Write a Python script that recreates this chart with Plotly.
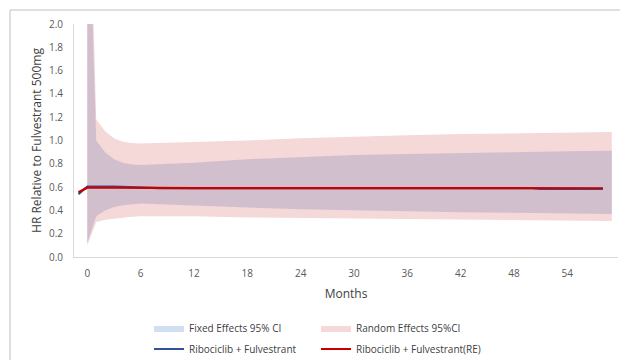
import plotly.graph_objects as go

# CI band months
band_months = [0, 1, 2, 3, 4, 5, 6, 9, 12, 18, 24, 30, 36, 42, 48, 54, 59]
fe_upper = [3.5, 1.00, 0.90, 0.84, 0.81, 0.795, 0.79, 0.80, 0.81, 0.84, 0.86, 0.875, 0.885, 0.895, 0.90, 0.908, 0.912]
fe_lower = [0.12, 0.35, 0.40, 0.43, 0.445, 0.455, 0.46, 0.45, 0.44, 0.425, 0.41, 0.40, 0.39, 0.385, 0.38, 0.375, 0.37]
re_upper = [4.0, 1.18, 1.08, 1.02, 0.99, 0.978, 0.975, 0.98, 0.99, 1.00, 1.02, 1.035, 1.045, 1.055, 1.06, 1.068, 1.072]
re_lower = [0.10, 0.30, 0.32, 0.33, 0.34, 0.345, 0.35, 0.35, 0.35, 0.34, 0.335, 0.33, 0.328, 0.325, 0.32, 0.315, 0.31]

# Point estimate lines
line_months = [-1, 0, 3, 6, 8, 12, 24, 36, 48, 50, 51, 54, 58]
fe_hr = [0.54, 0.605, 0.605, 0.60, 0.592, 0.592, 0.592, 0.592, 0.592, 0.59, 0.584, 0.584, 0.584]
re_hr = [0.555, 0.595, 0.595, 0.593, 0.592, 0.592, 0.592, 0.592, 0.592, 0.592, 0.590, 0.590, 0.590]

x_ticks = [0, 6, 12, 18, 24, 30, 36, 42, 48, 54]
y_ticks = [0.0, 0.2, 0.4, 0.6, 0.8, 1.0, 1.2, 1.4, 1.6, 1.8, 2.0]

PINK = "rgb(245,216,216)"
PURPLE = "rgb(210,191,205)"
BLUE_SWATCH = "rgb(208,224,242)"
BLUE = "rgb(47,82,152)"
RED = "rgb(200,0,0)"

fig = go.Figure()

# Random effects band (pink)
fig.add_trace(go.Scatter(x=band_months, y=re_lower, mode="lines", line=dict(width=0),
                         showlegend=False, hoverinfo="skip"))
fig.add_trace(go.Scatter(x=band_months, y=re_upper, mode="lines", line=dict(width=0),
                         fill="tonexty", fillcolor=PINK, showlegend=False, hoverinfo="skip"))
# Fixed effects band (overlap appears purple)
fig.add_trace(go.Scatter(x=band_months, y=fe_lower, mode="lines", line=dict(width=0),
                         showlegend=False, hoverinfo="skip"))
fig.add_trace(go.Scatter(x=band_months, y=fe_upper, mode="lines", line=dict(width=0),
                         fill="tonexty", fillcolor=PURPLE, showlegend=False, hoverinfo="skip"))

# Lines
fig.add_trace(go.Scatter(x=line_months, y=fe_hr, mode="lines", line=dict(color=BLUE, width=2.2),
                         name="Ribociclib + Fulvestrant", legend="legend2"))
fig.add_trace(go.Scatter(x=line_months, y=re_hr, mode="lines", line=dict(color=RED, width=2.2),
                         name="Ribociclib + Fulvestrant(RE)", legend="legend2"))

# Legend entries for bands
fig.add_trace(go.Scatter(x=[None], y=[None], mode="lines", line=dict(width=0),
                         fill="toself", fillcolor=BLUE_SWATCH, name="Fixed Effects 95% CI",
                         legend="legend"))
fig.add_trace(go.Scatter(x=[None], y=[None], mode="lines", line=dict(width=0),
                         fill="toself", fillcolor=PINK, name="Random Effects 95%CI",
                         legend="legend"))

font_family = "Open Sans, Liberation Sans, sans-serif"
legend_common = dict(orientation="h", xref="paper", yref="paper", xanchor="left",
                     entrywidth=122, entrywidthmode="pixels", itemwidth=30,
                     traceorder="normal",
                     font=dict(size=10, color="#404040", family=font_family),
                     bgcolor="rgba(0,0,0,0)", tracegroupgap=0)

# The page adds an 8px body margin, so the figure is offset by 8px.
fig.update_layout(
    width=620, height=352,
    margin=dict(l=66, r=10, t=16, b=103, autoexpand=False),
    paper_bgcolor="white", plot_bgcolor="white",
    font=dict(family=font_family, color="#595959", size=10),
    xaxis=dict(range=[-1.5, 59.7], tickmode="array", tickvals=x_ticks,
               ticktext=[str(v) for v in x_ticks], showgrid=False, zeroline=False,
               showline=True, linecolor="#d9d9d9", linewidth=1, ticks="",
               ticklabelstandoff=7,
               tickfont=dict(size=10, color="#595959"),
               title=dict(text="Months", font=dict(size=12, color="#404040"), standoff=10)),
    yaxis=dict(range=[0, 2.0], tickmode="array", tickvals=y_ticks,
               ticktext=[f"{v:.1f}" for v in y_ticks], showgrid=False, zeroline=False,
               showline=True, linecolor="#d9d9d9", linewidth=1, ticks="",
               ticklabelstandoff=8,
               tickfont=dict(size=10, color="#595959"),
               title=dict(text="HR Relative to Fulvestrant 500mg",
                          font=dict(size=12, color="#404040"), standoff=4)),
    legend=dict(x=(149 - 74) / 544, y=(257 - 328) / 233, yanchor="middle", **legend_common),
    legend2=dict(x=(149 - 74) / 544, y=(257 - 349) / 233, yanchor="middle", **legend_common),
    shapes=[dict(type="rect", xref="paper", yref="paper",
                 x0=(10 - 74) / 544, x1=(660 - 74) / 544,
                 y0=(257 - 400) / 233, y1=(257 - 10) / 233,
                 line=dict(color="#bfbfbf", width=1), fillcolor="rgba(0,0,0,0)", layer="below")],
)

fig.write_html("out.html")
